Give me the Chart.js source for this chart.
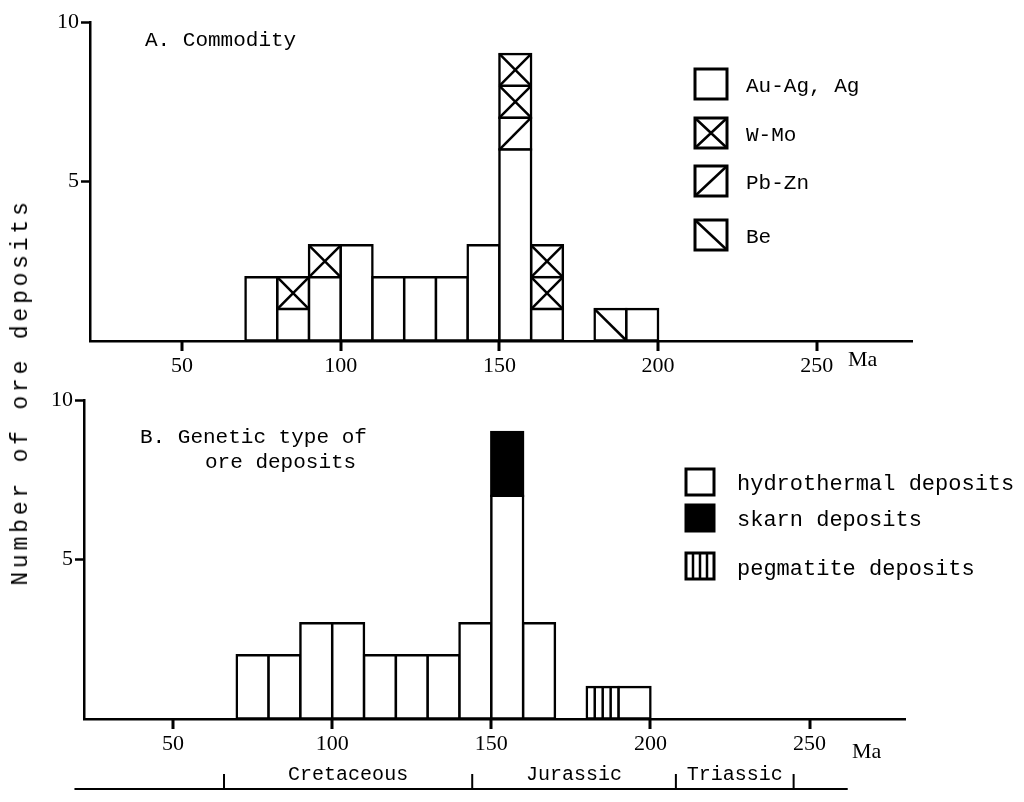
<!DOCTYPE html>
<html>
<head>
<meta charset="utf-8">
<script src="https://cdn.jsdelivr.net/npm/chart.js@4.4.1/dist/chart.umd.min.js"></script>
<style>
html, body { margin: 0; padding: 0; background: #fff; }
#wrap { position: relative; width: 1024px; height: 802px; overflow: hidden; }
canvas { position: absolute; left: 0; top: 0; }
#ylabel {
  position: absolute; left: 21px; top: 392px;
  transform: translate(-50%, -50%) rotate(-90deg);
  font: 23px "Liberation Mono", monospace; letter-spacing: 3.8px; white-space: nowrap; color: #000;
}
</style>
</head>
<body>
<div id="wrap">
  <canvas id="chartA" width="1024" height="802"></canvas>
  <canvas id="chartB" width="1024" height="802"></canvas>
  <div id="ylabel">Number of ore deposits</div>
</div>
<script>
// 10 Ma age bins (start of bin, Ma)
const binStarts = [70, 80, 90, 100, 110, 120, 130, 140, 150, 160, 170, 180, 190];

// A. Commodity (counts per bin, stacked bottom -> top)
const auAg = [2, 1, 2, 3, 2, 2, 2, 3, 6, 1, 0, 0, 1];
const pbZn = [0, 0, 0, 0, 0, 0, 0, 0, 1, 0, 0, 0, 0];
const wMo  = [0, 1, 1, 0, 0, 0, 0, 0, 2, 2, 0, 0, 0];
const be   = [0, 0, 0, 0, 0, 0, 0, 0, 0, 0, 0, 1, 0];

// B. Genetic type
const hydrothermal = [2, 2, 3, 3, 2, 2, 2, 3, 7, 3, 0, 0, 1];
const skarn        = [0, 0, 0, 0, 0, 0, 0, 0, 2, 0, 0, 0, 0];
const pegmatite    = [0, 0, 0, 0, 0, 0, 0, 0, 0, 0, 0, 1, 0];

// x axis tick values (Ma)
const ageTicks = [50, 100, 150, 200, 250];

// geologic time scale under the plot
const periodBounds = [66, 144, 208, 245];
const periodNames = ['Cretaceous', 'Jurassic', 'Triassic'];

const MONO = '"Liberation Mono", "DejaVu Sans Mono", monospace';
const SERIF = '"Liberation Serif", serif';
const LW = 2.5;

function toPoints(arr) {
  return binStarts.map((s, i) => ({ x: s + 5, y: arr[i] > 0 ? arr[i] : null }));
}

function barSet(label, arr, hatch, fill) {
  return {
    label: label,
    data: toPoints(arr),
    hatch: hatch,
    backgroundColor: fill || '#fff',
    borderColor: '#000',
    borderWidth: LW,
    borderSkipped: false,
    inflateAmount: LW / 2,
    barPercentage: 1,
    categoryPercentage: 1
  };
}

function drawHatch(ctx, kind, x0, y0, w, h) {
  ctx.beginPath();
  if (kind === 'cross') {
    ctx.moveTo(x0, y0); ctx.lineTo(x0 + w, y0 + h);
    ctx.moveTo(x0 + w, y0); ctx.lineTo(x0, y0 + h);
  } else if (kind === 'slash') {
    ctx.moveTo(x0, y0 + h); ctx.lineTo(x0 + w, y0);
  } else if (kind === 'backslash') {
    ctx.moveTo(x0, y0); ctx.lineTo(x0 + w, y0 + h);
  } else if (kind === 'vlines') {
    for (let k = 1; k <= 3; k++) {
      const xx = x0 + w * k / 4;
      ctx.moveTo(xx, y0); ctx.lineTo(xx, y0 + h);
    }
  }
  ctx.stroke();
}

const panelPlugin = {
  id: 'panel',
  afterDatasetsDraw(chart) {
    const ctx = chart.ctx;
    ctx.save();
    ctx.strokeStyle = '#000';
    ctx.lineWidth = LW;
    chart.data.datasets.forEach((ds, di) => {
      if (!ds.hatch) return;
      chart.getDatasetMeta(di).data.forEach((el, i) => {
        const v = ds.data[i].y;
        if (!v) return;
        const p = el.getProps(['x', 'y', 'base', 'width'], true);
        const left = p.x - p.width / 2, w = p.width;
        const top = Math.min(p.y, p.base), h = Math.abs(p.base - p.y) / v;
        for (let k = 0; k < v; k++) {
          const cy = top + k * h;
          drawHatch(ctx, ds.hatch, left, cy, w, h);
          if (k > 0) {
            ctx.beginPath(); ctx.moveTo(left, cy); ctx.lineTo(left + w, cy); ctx.stroke();
          }
        }
      });
    });
    ctx.restore();
  },
  afterDraw(chart, args, opts) {
    const ctx = chart.ctx;
    const xs = chart.scales.x;
    const base = chart.chartArea.bottom;
    ctx.save();
    ctx.fillStyle = '#000';
    ctx.strokeStyle = '#000';
    ctx.textBaseline = 'middle';
    // panel title
    ctx.font = '21px ' + MONO;
    ctx.textAlign = 'left';
    opts.title.forEach(t => ctx.fillText(t.text, t.x, t.y));
    // legend
    const lg = opts.legend;
    ctx.font = lg.font;
    chart.data.datasets.forEach((ds, i) => {
      const cy = lg.y[i];
      const bx = lg.x, by = cy - lg.h / 2;
      ctx.lineWidth = 3;
      if (ds.backgroundColor !== '#fff') {
        ctx.fillStyle = ds.backgroundColor;
        ctx.fillRect(bx, by, lg.w, lg.h);
      }
      ctx.strokeRect(bx, by, lg.w, lg.h);
      ctx.lineWidth = LW;
      if (ds.hatch) drawHatch(ctx, ds.hatch, bx, by, lg.w, lg.h);
      ctx.fillStyle = '#000';
      ctx.fillText(ds.label, lg.textX, lg.textY[i]);
    });
    // "Ma" unit label
    ctx.font = '22px ' + SERIF;
    ctx.fillText('Ma', opts.ma.x, opts.ma.y);
    // x tick marks hanging below the axis
    ctx.strokeStyle = '#000';
    ctx.lineWidth = 3;
    ctx.beginPath();
    ageTicks.forEach(v => {
      const px = Math.round(xs.getPixelForValue(v));
      ctx.moveTo(px, base - 1);
      ctx.lineTo(px, base + 10);
    });
    ctx.stroke();
    // geologic time bar
    if (opts.geo) {
      const g = opts.geo;
      ctx.lineWidth = 2;
      ctx.beginPath();
      ctx.moveTo(xs.getPixelForValue(g.from), g.y);
      ctx.lineTo(xs.getPixelForValue(g.to), g.y);
      periodBounds.forEach(b => {
        const px = xs.getPixelForValue(b);
        ctx.moveTo(px, g.y); ctx.lineTo(px, g.y - 15);
      });
      ctx.stroke();
      ctx.font = '20px ' + MONO;
      ctx.textAlign = 'center';
      periodNames.forEach((n, i) => {
        const mid = (periodBounds[i] + periodBounds[i + 1]) / 2;
        ctx.fillText(n, xs.getPixelForValue(mid), g.y - 14);
      });
    }
    ctx.restore();
  }
};

function axes(xmin) {
  const tickFont = { family: SERIF, size: 22 };
  return {
    x: {
      type: 'linear', min: xmin, max: 280, stacked: true, offset: false,
      afterFit: s => { s.height = 50; },
      afterBuildTicks: s => { s.ticks = ageTicks.map(v => ({ value: v })); },
      ticks: { color: '#000', font: tickFont, padding: 12, maxRotation: 0, autoSkip: false },
      grid: { display: false, offset: false, drawTicks: false },
      border: { display: true, color: '#000', width: LW }
    },
    y: {
      min: 0, max: 10, stacked: true,
      afterFit: s => { s.width = 50; },
      ticks: { stepSize: 5, color: '#000', font: tickFont, padding: 2, callback: v => (v === 0 ? '' : v) },
      grid: {
        display: true, offset: false, drawOnChartArea: false, drawTicks: true, tickLength: 9, tickWidth: LW,
        tickColor: c => (c.tick && c.tick.value === 0 ? 'rgba(0,0,0,0)' : '#000')
      },
      border: { display: true, color: '#000', width: LW }
    }
  };
}

new Chart(document.getElementById('chartA'), {
  type: 'bar',
  data: {
    datasets: [
      barSet('Au-Ag, Ag', auAg, null),
      barSet('Pb-Zn', pbZn, 'slash'),
      barSet('W-Mo', wMo, 'cross'),
      barSet('Be', be, 'backslash')
    ]
  },
  options: {
    responsive: false,
    animation: false,
    events: [],
    layout: { padding: { left: 40, right: 112, top: 22, bottom: 411 } },
    scales: axes(21),
    plugins: {
      legend: { display: false },
      tooltip: { enabled: false },
      panel: {
        title: [{ text: 'A. Commodity', x: 145, y: 40 }],
        legend: { x: 695, w: 32, h: 30, y: [84, 181, 133, 235], textX: 746, textY: [86, 183, 135, 237], font: '21px ' + MONO },
        ma: { x: 848, y: 360 }
      }
    }
  },
  plugins: [panelPlugin]
});

new Chart(document.getElementById('chartB'), {
  type: 'bar',
  data: {
    datasets: [
      barSet('hydrothermal deposits', hydrothermal, null),
      barSet('skarn deposits', skarn, null, '#000'),
      barSet('pegmatite deposits', pegmatite, 'vlines')
    ]
  },
  options: {
    responsive: false,
    animation: false,
    events: [],
    layout: { padding: { left: 34, right: 119, top: 400, bottom: 33 } },
    scales: axes(22),
    plugins: {
      legend: { display: false },
      tooltip: { enabled: false },
      panel: {
        title: [{ text: 'B. Genetic type of', x: 140, y: 437 }, { text: 'ore deposits', x: 205, y: 462 }],
        legend: { x: 686, w: 28, h: 26, y: [482, 518, 566], textX: 737, textY: [484, 520, 569], font: '22px ' + MONO },
        ma: { x: 852, y: 752 },
        geo: { from: 19, to: 262, y: 789 }
      }
    }
  },
  plugins: [panelPlugin]
});
</script>
</body>
</html>
